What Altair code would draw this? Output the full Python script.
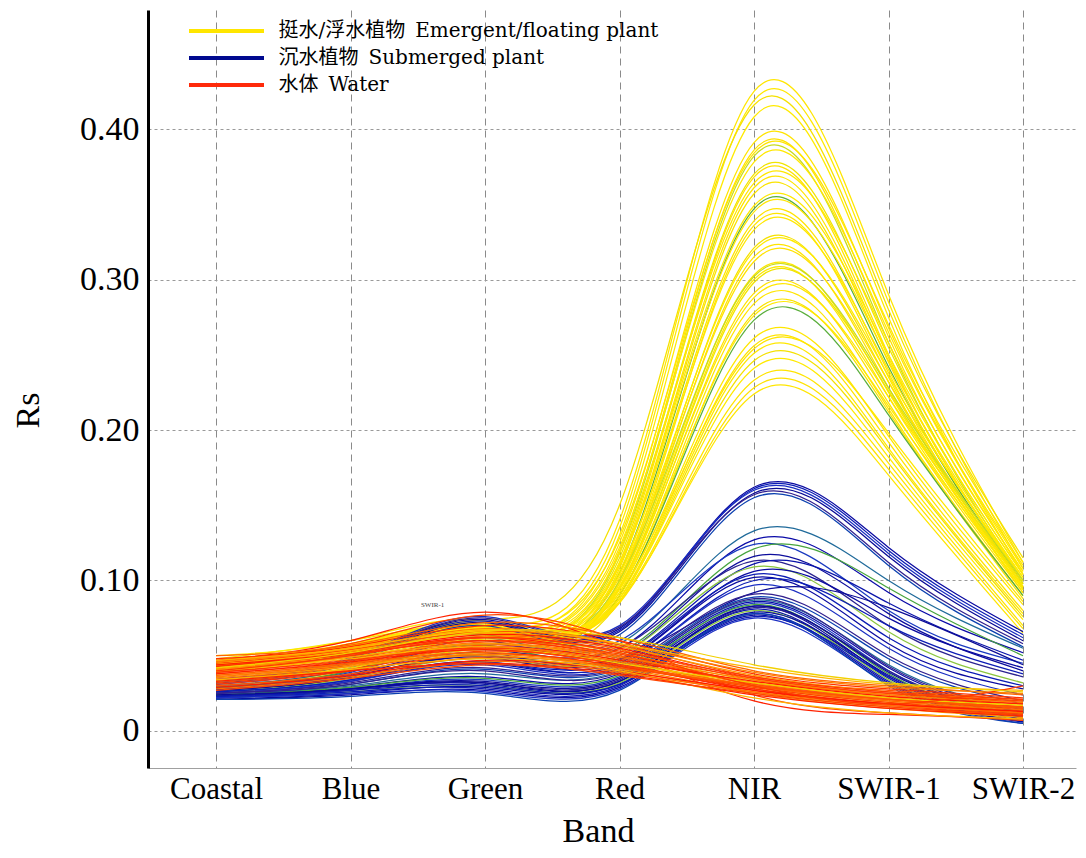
import json
import altair as alt
import pandas as pd

# ---------------- data ----------------
bands = ["Coastal", "Blue", "Green", "Red", "NIR", "SWIR-1", "SWIR-2"]
classes = [
    "挺水/浮水植物\u2002Emergent/floating plant",
    "沉水植物\u2002Submerged plant",
    "水体\u2002Water",
]

# Emergent / floating plant spectra (Coastal, Blue, Green, Red, NIR, SWIR-1, SWIR-2)
emergent = [
    [0.046, 0.058, 0.072, 0.140, 0.425, 0.290, 0.112],
    [0.044, 0.055, 0.070, 0.135, 0.419, 0.285, 0.108],
    [0.048, 0.060, 0.074, 0.150, 0.416, 0.280, 0.115],
    [0.042, 0.054, 0.068, 0.130, 0.408, 0.275, 0.104],
    [0.045, 0.056, 0.070, 0.125, 0.391, 0.268, 0.110],
    [0.043, 0.053, 0.067, 0.120, 0.386, 0.262, 0.106],
    [0.047, 0.058, 0.071, 0.128, 0.384, 0.270, 0.112],
    [0.041, 0.052, 0.066, 0.118, 0.382, 0.258, 0.100],
    [0.044, 0.055, 0.069, 0.122, 0.378, 0.265, 0.108],
    [0.046, 0.057, 0.070, 0.115, 0.370, 0.255, 0.104],
    [0.040, 0.051, 0.064, 0.112, 0.368, 0.250, 0.098],
    [0.043, 0.054, 0.068, 0.118, 0.364, 0.258, 0.106],
    [0.045, 0.056, 0.069, 0.110, 0.361, 0.248, 0.100],
    [0.032, 0.044, 0.060, 0.108, 0.357, 0.245, 0.096],
    [0.044, 0.055, 0.068, 0.112, 0.349, 0.250, 0.104],
    [0.041, 0.052, 0.065, 0.105, 0.347, 0.242, 0.098],
    [0.046, 0.057, 0.070, 0.110, 0.345, 0.246, 0.102],
    [0.043, 0.054, 0.067, 0.104, 0.339, 0.238, 0.095],
    [0.030, 0.041, 0.057, 0.100, 0.336, 0.235, 0.092],
    [0.044, 0.055, 0.068, 0.106, 0.333, 0.240, 0.100],
    [0.042, 0.053, 0.066, 0.100, 0.321, 0.232, 0.096],
    [0.050, 0.060, 0.073, 0.104, 0.319, 0.236, 0.102],
    [0.041, 0.052, 0.065, 0.098, 0.315, 0.228, 0.094],
    [0.043, 0.054, 0.067, 0.102, 0.312, 0.232, 0.098],
    [0.044, 0.055, 0.068, 0.098, 0.303, 0.225, 0.096],
    [0.028, 0.040, 0.056, 0.100, 0.302, 0.228, 0.100],
    [0.045, 0.056, 0.069, 0.096, 0.300, 0.222, 0.094],
    [0.040, 0.051, 0.064, 0.095, 0.298, 0.226, 0.098],
    [0.043, 0.054, 0.067, 0.094, 0.291, 0.218, 0.092],
    [0.041, 0.052, 0.065, 0.096, 0.288, 0.222, 0.096],
    [0.044, 0.055, 0.068, 0.092, 0.284, 0.214, 0.090],
    [0.042, 0.053, 0.066, 0.090, 0.278, 0.212, 0.088],
    [0.045, 0.056, 0.069, 0.094, 0.276, 0.216, 0.094],
    [0.040, 0.051, 0.064, 0.090, 0.273, 0.210, 0.090],
    [0.043, 0.054, 0.067, 0.090, 0.261, 0.196, 0.084],
    [0.041, 0.052, 0.065, 0.088, 0.256, 0.192, 0.080],
    [0.044, 0.055, 0.068, 0.092, 0.254, 0.198, 0.086],
    [0.042, 0.053, 0.066, 0.088, 0.251, 0.188, 0.078],
    [0.025, 0.036, 0.052, 0.086, 0.246, 0.186, 0.076],
    [0.043, 0.054, 0.067, 0.088, 0.241, 0.182, 0.074],
    [0.041, 0.052, 0.065, 0.086, 0.233, 0.178, 0.070],
    [0.039, 0.050, 0.063, 0.085, 0.228, 0.174, 0.068],
    [0.042, 0.053, 0.066, 0.086, 0.224, 0.170, 0.065],
]

# Submerged plant spectra
submerged = [
    [0.034, 0.048, 0.074, 0.068, 0.162, 0.122, 0.066],
    [0.033, 0.047, 0.073, 0.067, 0.161, 0.120, 0.064],
    [0.035, 0.049, 0.076, 0.070, 0.160, 0.118, 0.062],
    [0.032, 0.046, 0.072, 0.066, 0.158, 0.116, 0.060],
    [0.034, 0.048, 0.075, 0.069, 0.157, 0.112, 0.058],
    [0.031, 0.045, 0.070, 0.064, 0.155, 0.110, 0.056],
    [0.030, 0.042, 0.062, 0.058, 0.133, 0.100, 0.055],
    [0.029, 0.040, 0.060, 0.055, 0.127, 0.092, 0.052],
    [0.028, 0.039, 0.058, 0.060, 0.124, 0.080, 0.045],
    [0.029, 0.040, 0.057, 0.052, 0.121, 0.095, 0.050],
    [0.027, 0.037, 0.052, 0.050, 0.116, 0.078, 0.040],
    [0.028, 0.038, 0.054, 0.055, 0.113, 0.070, 0.036],
    [0.027, 0.036, 0.050, 0.048, 0.111, 0.085, 0.047],
    [0.026, 0.035, 0.048, 0.050, 0.109, 0.066, 0.032],
    [0.027, 0.036, 0.049, 0.046, 0.106, 0.075, 0.042],
    [0.026, 0.034, 0.046, 0.047, 0.104, 0.062, 0.030],
    [0.025, 0.033, 0.045, 0.045, 0.102, 0.058, 0.028],
    [0.026, 0.034, 0.046, 0.044, 0.100, 0.070, 0.038],
    [0.025, 0.033, 0.044, 0.043, 0.097, 0.055, 0.024],
    [0.027, 0.036, 0.050, 0.048, 0.092, 0.082, 0.044],
    [0.025, 0.032, 0.042, 0.042, 0.091, 0.050, 0.020],
    [0.024, 0.031, 0.041, 0.041, 0.089, 0.048, 0.018],
    [0.024, 0.030, 0.038, 0.040, 0.087, 0.044, 0.014],
    [0.023, 0.029, 0.036, 0.038, 0.086, 0.042, 0.012],
    [0.022, 0.028, 0.034, 0.036, 0.085, 0.040, 0.010],
    [0.024, 0.029, 0.035, 0.037, 0.084, 0.038, 0.011],
    [0.023, 0.028, 0.033, 0.035, 0.083, 0.036, 0.009],
    [0.022, 0.027, 0.032, 0.034, 0.082, 0.040, 0.012],
    [0.023, 0.028, 0.031, 0.033, 0.081, 0.035, 0.008],
    [0.022, 0.026, 0.030, 0.032, 0.080, 0.034, 0.007],
    [0.021, 0.025, 0.029, 0.031, 0.079, 0.037, 0.010],
    [0.022, 0.026, 0.028, 0.030, 0.078, 0.033, 0.006],
    [0.021, 0.024, 0.027, 0.029, 0.077, 0.032, 0.006],
    [0.023, 0.027, 0.030, 0.031, 0.076, 0.036, 0.009],
    [0.022, 0.025, 0.026, 0.028, 0.075, 0.031, 0.005],
    [0.024, 0.028, 0.032, 0.033, 0.083, 0.039, 0.013],
    [0.025, 0.031, 0.040, 0.039, 0.088, 0.043, 0.015],
    [0.021, 0.023, 0.025, 0.027, 0.078, 0.030, 0.005],
]

# Water spectra
water = [
    [0.047, 0.060, 0.079, 0.055, 0.020, 0.011, 0.008],
    [0.046, 0.058, 0.077, 0.060, 0.024, 0.012, 0.007],
    [0.050, 0.057, 0.072, 0.062, 0.040, 0.030, 0.024],
    [0.048, 0.056, 0.070, 0.060, 0.038, 0.028, 0.022],
    [0.046, 0.055, 0.068, 0.058, 0.039, 0.029, 0.025],
    [0.045, 0.054, 0.066, 0.057, 0.036, 0.027, 0.021],
    [0.044, 0.053, 0.065, 0.056, 0.037, 0.026, 0.020],
    [0.043, 0.052, 0.064, 0.055, 0.035, 0.025, 0.019],
    [0.047, 0.055, 0.067, 0.058, 0.042, 0.031, 0.027],
    [0.042, 0.051, 0.063, 0.054, 0.034, 0.024, 0.018],
    [0.041, 0.050, 0.062, 0.053, 0.036, 0.026, 0.021],
    [0.040, 0.049, 0.061, 0.052, 0.033, 0.023, 0.017],
    [0.044, 0.052, 0.062, 0.050, 0.032, 0.022, 0.016],
    [0.039, 0.048, 0.060, 0.051, 0.035, 0.025, 0.020],
    [0.038, 0.047, 0.059, 0.050, 0.032, 0.022, 0.015],
    [0.043, 0.051, 0.060, 0.049, 0.031, 0.021, 0.014],
    [0.037, 0.046, 0.058, 0.049, 0.034, 0.024, 0.019],
    [0.036, 0.045, 0.057, 0.048, 0.031, 0.021, 0.015],
    [0.041, 0.049, 0.058, 0.047, 0.030, 0.020, 0.013],
    [0.035, 0.044, 0.056, 0.047, 0.033, 0.023, 0.018],
    [0.040, 0.048, 0.056, 0.046, 0.029, 0.019, 0.012],
    [0.034, 0.043, 0.055, 0.046, 0.030, 0.020, 0.014],
    [0.039, 0.047, 0.055, 0.045, 0.028, 0.018, 0.011],
    [0.033, 0.042, 0.054, 0.045, 0.032, 0.022, 0.017],
    [0.038, 0.046, 0.054, 0.044, 0.027, 0.017, 0.010],
    [0.032, 0.041, 0.053, 0.044, 0.029, 0.019, 0.013],
    [0.037, 0.045, 0.052, 0.043, 0.030, 0.021, 0.016],
    [0.031, 0.040, 0.051, 0.043, 0.028, 0.018, 0.012],
    [0.036, 0.044, 0.051, 0.042, 0.026, 0.016, 0.010],
    [0.030, 0.038, 0.049, 0.042, 0.030, 0.021, 0.016],
    [0.035, 0.043, 0.050, 0.041, 0.025, 0.015, 0.009],
    [0.029, 0.037, 0.047, 0.040, 0.027, 0.018, 0.013],
    [0.034, 0.041, 0.048, 0.040, 0.022, 0.012, 0.008],
    [0.028, 0.036, 0.046, 0.039, 0.026, 0.017, 0.012],
    [0.040, 0.050, 0.062, 0.052, 0.030, 0.018, 0.030],
    [0.042, 0.052, 0.066, 0.062, 0.044, 0.032, 0.026],
    [0.033, 0.040, 0.045, 0.038, 0.024, 0.015, 0.010],
    [0.027, 0.035, 0.044, 0.037, 0.025, 0.016, 0.011],
]

y_ticks = [0, 0.10, 0.20, 0.30, 0.40]
note_text = ["SWIR-1"]
note_x = [1.61]
note_y = [0.084]

# ---------------- styles ----------------
legend_colors = ["#FFE600", "#00098F", "#FF2A0A"]
emergent_palette = ["#FFE600", "#FFE800", "#F5E100", "#FFEA00", "#FFE400", "#FFE200",
                    "#FFE600", "#C8DC1E", "#FFE800", "#F0E400", "#FFE200", "#FFE700",
                    "#FFE500", "#FAE300", "#FFE900", "#5AAE3C", "#FFE600", "#FFE300"]
submerged_palette = ["#0A0AA0", "#0C1CB4", "#1A2EC2", "#0A0A96", "#32208E", "#0B40B0",
                     "#1F6A9A", "#0A0AA8", "#1A3AC0", "#47A43D", "#0D0D9C", "#2A2290",
                     "#0A14AA", "#8CC63F", "#0A0AA0", "#0C1CB4"]
water_palette = ["#FF2200", "#FF4500", "#FF6600", "#FF3300", "#FF8000", "#FF5500",
                 "#FF9900", "#FF1A00", "#FFB300", "#FF7000", "#FF3C00", "#F2D000"]

SERIF = "Liberation Serif"
LEG_FONT = "DejaVu Serif, Noto Sans CJK SC"

rows = []
for k, (curves, pal) in enumerate([(emergent, emergent_palette),
                                   (submerged, submerged_palette),
                                   (water, water_palette)]):
    for i, c in enumerate(curves):
        for j, v in enumerate(c):
            rows.append({"id": f"{k}-{i:03d}", "cls": classes[k], "x": j, "v": v,
                         "col": pal[i % len(pal)]})
df = pd.DataFrame(rows)

leg_df = pd.DataFrame({"cls": classes, "x": [0, 0, 0],
                       "v": [emergent[0][0], submerged[0][0], water[0][0]]})
note_df = pd.DataFrame({"t": note_text, "x": note_x, "v": note_y})

label_expr = json.dumps(bands) + "[datum.value]"

X = alt.X("x:Q",
          scale=alt.Scale(domain=[-0.5056, 6.394], nice=False, zero=False),
          axis=alt.Axis(values=list(range(len(bands))), labelExpr=label_expr,
                        title="Band", grid=True, gridDash=[7, 5], gridColor="#8a8a8a",
                        gridWidth=1, ticks=False, domainColor="#a0a0a0", domainWidth=1,
                        labelFont=SERIF, labelFontSize=31, labelColor="#000",
                        labelPadding=6, labelFlush=False,
                        titleFont=SERIF, titleFontSize=34, titleFontWeight="normal",
                        titleColor="#000", titleX=450, titleY=63,
                        titleAlign="center", titleBaseline="middle"))
Y = alt.Y("v:Q",
          scale=alt.Scale(domain=[-0.0246, 0.4791], nice=False, zero=False),
          axis=alt.Axis(values=y_ticks,
                        labelExpr="datum.value == 0 ? '0' : format(datum.value, '.2f')",
                        title="Rs", grid=True, gridDash=[3, 3], gridColor="#9a9a9a",
                        gridWidth=1, ticks=False, domainColor="#000", domainWidth=3,
                        labelFont=SERIF, labelFontSize=34, labelColor="#000",
                        labelPadding=9,
                        titleFont=SERIF, titleFontSize=34, titleFontWeight="normal",
                        titleColor="#000", titleX=-120, titleY=400, titleAngle=270,
                        titleAlign="center", titleBaseline="middle"))


def class_layer(k):
    return (alt.Chart(df)
            .transform_filter(alt.datum.cls == classes[k])
            .mark_line(interpolate="natural", strokeWidth=1.25)
            .encode(x=X, y=Y, detail="id:N", order=alt.Order("x:Q"),
                    stroke=alt.Stroke("col:N", scale=None)))


legend_layer = (alt.Chart(leg_df)
                .mark_line(strokeWidth=4)
                .encode(x=X, y=Y,
                        color=alt.Color("cls:N",
                                        scale=alt.Scale(domain=classes, range=legend_colors),
                                        legend=alt.Legend(
                                            title=None, orient="none",
                                            legendX=68.5, legendY=11,
                                            symbolType="M-5,0H5", symbolSize=225,
                                            symbolStrokeWidth=4, symbolOpacity=1,
                                            labelFont=LEG_FONT, labelFontSize=20,
                                            labelColor="#000", labelOffset=42,
                                            labelLimit=700, rowPadding=7, padding=0))))

note_layer = (alt.Chart(note_df)
              .mark_text(font=SERIF, fontSize=7, color="#444")
              .encode(x=X, y=Y, text="t:N"))

chart = (alt.layer(class_layer(0), class_layer(1), class_layer(2), note_layer, legend_layer)
         .properties(width=928, height=758,
                     autosize=alt.AutoSizeParams(type="none"),
                     padding={"left": 140, "top": 2, "right": 2, "bottom": 82},
                     background="white")
         .configure_view(stroke=None))

chart.save("out.html", embed_options={"renderer": "svg", "actions": False})
